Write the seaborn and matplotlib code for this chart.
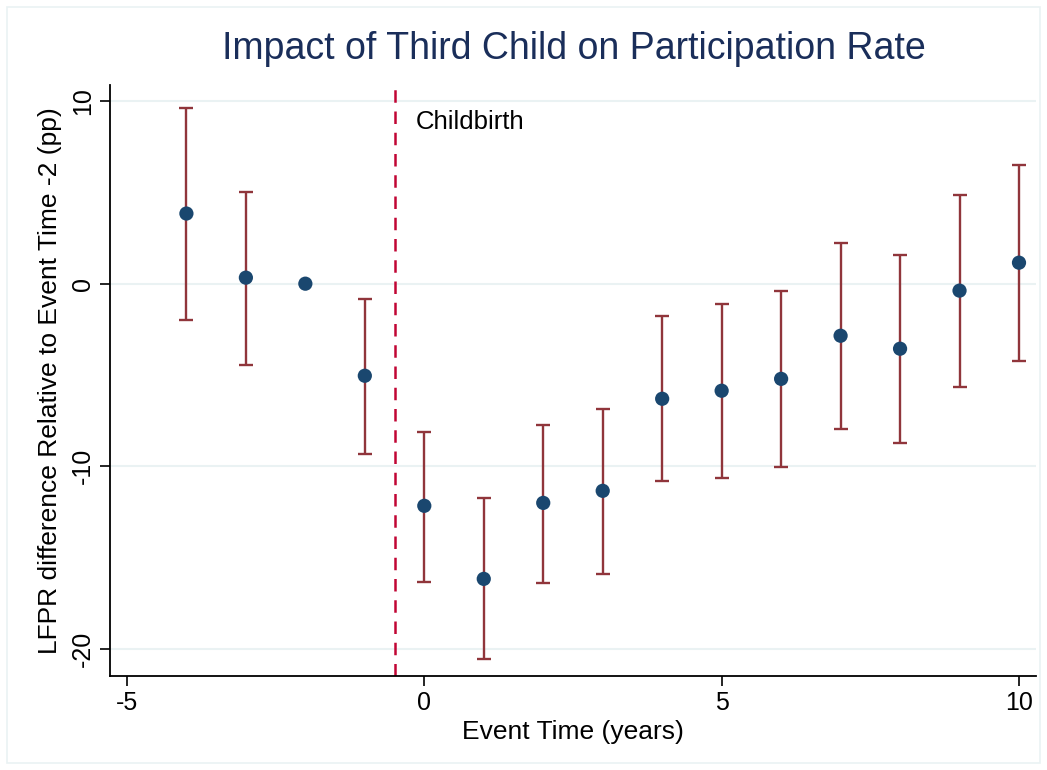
import numpy as np
import pandas as pd
import matplotlib
matplotlib.use("Agg")
import matplotlib.pyplot as plt
import seaborn as sns
from matplotlib.patches import Rectangle

event_time = [-4, -3, -2, -1, 0, 1, 2, 3, 4, 5, 6, 7, 8, 9, 10]
estimate = [3.84, 0.33, 0.0, -5.04, -12.16, -16.16, -12.0, -11.34, -6.30, -5.86, -5.21, -2.85, -3.56, -0.38, 1.15]
ci_upper = [9.64, 5.04, np.nan, -0.82, -8.11, -11.73, -7.73, -6.85, -1.75, -1.10, -0.38, 2.25, 1.59, 4.88, 6.52]
ci_lower = [-1.97, -4.44, np.nan, -9.32, -16.33, -20.55, -16.38, -15.89, -10.79, -10.63, -10.03, -7.95, -8.71, -5.64, -4.22]
x_ticks = [-5, 0, 5, 10]
y_ticks = [-20, -10, 0, 10]

df = pd.DataFrame({"t": event_time, "b": estimate, "hi": ci_upper, "lo": ci_lower})

sns.set_theme(style="white")
plt.rcParams['font.family'] = ['Liberation Sans', 'DejaVu Sans']
plt.rcParams['axes.unicode_minus'] = False

fig = plt.figure(figsize=(10.47, 7.70), dpi=100)
ax = fig.add_axes([0.105, 0.122, 0.8845, 0.7676])

# outer graph-region border
fig.patches.append(Rectangle((7 / 1047, 7 / 770), 1 - 14 / 1047, 1 - 14 / 770,
                             transform=fig.transFigure, fill=False,
                             edgecolor="#eaf2f3", linewidth=1.2, zorder=0))

for yv in y_ticks:
    ax.axhline(yv, color="#eaf2f3", linewidth=1.5, zorder=0)

d = df.dropna()
ax.errorbar(d["t"], (d["hi"] + d["lo"]) / 2, yerr=(d["hi"] - d["lo"]) / 2,
            fmt="none", ecolor="#90353b", elinewidth=1.7, capsize=4.8, capthick=1.7, zorder=2)
sns.scatterplot(data=df, x="t", y="b", ax=ax, color="#1a476f", s=105,
                edgecolor="none", zorder=3, legend=False)

ax.axvline(-0.5, color="#c10534", linestyle=(0, (5, 3.5)), linewidth=1.8, zorder=1)
ax.text(-0.15, 8.85, "Childbirth", fontsize=18.5, va="center", ha="left", color="black")

ax.set_xlim(-5.286, 10.286)
ax.set_ylim(-21.48, 10.876)
ax.set_xticks(x_ticks)
ax.set_yticks(y_ticks)
ax.set_yticklabels([str(v) for v in y_ticks], rotation=90, va="center")
ax.tick_params(axis="both", labelsize=18, length=7, width=1.2, color="black",
               labelcolor="black", direction="out", bottom=True, left=True, pad=4)

for s in ["top", "right"]:
    ax.spines[s].set_visible(False)
for s in ["left", "bottom"]:
    ax.spines[s].set_color("black")
    ax.spines[s].set_linewidth(1.3)

ax.set_xlabel("Event Time (years)", fontsize=19, labelpad=3, color="black")
ax.set_ylabel("LFPR difference Relative to Event Time -2 (pp)", fontsize=19, labelpad=6, color="black")
fig.suptitle("Impact of Third Child on Participation Rate", fontsize=27, color="#1a2e5a",
             x=0.548, y=0.96)

fig.savefig("out.png", dpi=100)
